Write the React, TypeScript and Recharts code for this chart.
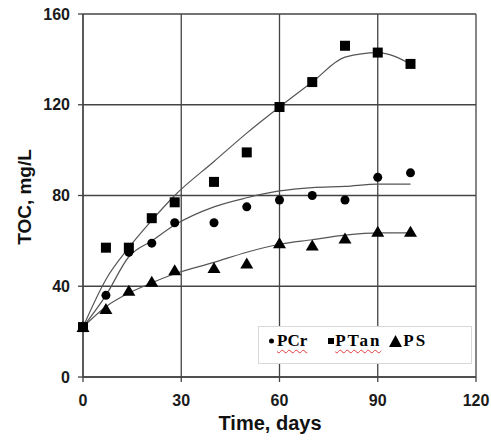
import { ComposedChart, Line, Scatter, XAxis, YAxis, CartesianGrid, Label } from 'recharts'

// sampling days
const days = [0, 7, 14, 21, 28, 40, 50, 60, 70, 80, 90, 100]

// measured TOC, mg/L
const pcr = [22, 36, 55, 59, 68, 68, 75, 78, 80, 78, 88, 90]
const ptan = [22, 57, 57, 70, 77, 86, 99, 119, 130, 146, 143, 138]
const ps = [22, 30, 38, 42, 47, 48, 50, 59, 58, 61, 64, 64]

// trend lines
const pcrFit = [22, 36, 53, 60, 67, 75, 79, 82, 83.5, 84, 85, 85]
const ptanFit = [22, 43, 57, 69, 80, 95, 107.5, 119, 130, 141, 143, 138]
const psFit = [22, 31, 37, 41.5, 45.5, 50.5, 55, 58.5, 60.5, 62.5, 63.5, 63.5]

const xTicks = [0, 30, 60, 90, 120]
const yTicks = [0, 40, 80, 120, 160]

const data = days.map((day, i) => ({
  day,
  pcr: pcr[i],
  ptan: ptan[i],
  ps: ps[i],
  pcrFit: pcrFit[i],
  ptanFit: ptanFit[i],
  psFit: psFit[i],
}))

const tickStyle = {
  fill: '#1a1a1a',
  fontFamily: 'Liberation Sans, Arial, sans-serif',
  fontWeight: 'bold' as const,
  fontSize: 16,
}

const SquareDot = ({ cx, cy }: any) => (
  <rect x={cx - 5} y={cy - 5} width={10} height={10} fill="#000" />
)

const CircleDot = ({ cx, cy }: any) => <circle cx={cx} cy={cy} r={4.5} fill="#000" />

const TriangleDot = ({ cx, cy }: any) => (
  <polygon points={`${cx},${cy - 6} ${cx + 6.5},${cy + 5} ${cx - 6.5},${cy + 5}`} fill="#000" />
)

const squiggle = {
  textDecoration: 'underline wavy #e23b3b',
  textDecorationThickness: '1px',
  textUnderlineOffset: '3px',
}

const LegendBox = () => (
  <div
    style={{
      position: 'absolute',
      left: 258,
      top: 326,
      width: 214,
      height: 38,
      boxSizing: 'border-box',
      border: '1px solid #d8d8d8',
      background: '#fff',
      display: 'flex',
      alignItems: 'center',
      paddingLeft: 10,
      paddingBottom: 8,
      fontFamily: 'Liberation Serif, Times New Roman, serif',
      fontWeight: 'bold',
      fontSize: 17,
      lineHeight: '18px',
      color: '#000',
    }}
  >
    <svg width={5} height={6} style={{ marginRight: 3 }}>
      <circle cx={2.5} cy={3} r={2.5} fill="#000" />
    </svg>
    <span style={squiggle}>PCr</span>
    <svg width={6} height={6} style={{ marginLeft: 21, marginRight: 1 }}>
      <rect width={6} height={6} fill="#000" />
    </svg>
    <span style={{ ...squiggle, letterSpacing: 2 }}>PTan</span>
    <svg width={13} height={12} style={{ marginLeft: 8, marginRight: 1 }}>
      <polygon points="6.5,0 13,12 0,12" fill="#000" />
    </svg>
    <span style={{ letterSpacing: 2 }}>PS</span>
  </div>
)

export default function App() {
  return (
    <div style={{ position: 'absolute', left: 0, top: 0, width: 491, height: 443, background: '#fff' }}>
      <ComposedChart
        width={491}
        height={443}
        data={data}
        margin={{ top: 14, right: 15, left: 0, bottom: 0 }}
      >
        <CartesianGrid stroke="#444" strokeWidth={1.3} />
        <XAxis
          dataKey="day"
          type="number"
          domain={[0, 120]}
          ticks={xTicks}
          height={66}
          tickSize={5}
          tickMargin={13}
          tick={tickStyle}
          stroke="#444"
          strokeWidth={1.3}
        >
          <Label
            content={() => (
              <text
                x={270}
                y={430}
                textAnchor="middle"
                fontFamily="Liberation Sans, Arial, sans-serif"
                fontWeight="bold"
                fontSize={20}
                fill="#111"
              >
                Time, days
              </text>
            )}
          />
        </XAxis>
        <YAxis
          type="number"
          domain={[0, 160]}
          ticks={yTicks}
          width={83}
          tickSize={5}
          tickMargin={8}
          tick={tickStyle}
          stroke="#444"
          strokeWidth={1.3}
        >
          <Label
            content={() => (
              <text
                x={24}
                y={197}
                transform="rotate(-90, 24, 197)"
                textAnchor="middle"
                dominantBaseline="central"
                fontFamily="Liberation Sans, Arial, sans-serif"
                fontWeight="bold"
                fontSize={19}
                fill="#111"
              >
                TOC, mg/L
              </text>
            )}
          />
        </YAxis>
        <Line dataKey="pcrFit" type="monotone" stroke="#555" strokeWidth={1.2} dot={false} isAnimationActive={false} />
        <Line dataKey="ptanFit" type="monotone" stroke="#555" strokeWidth={1.2} dot={false} isAnimationActive={false} />
        <Line dataKey="psFit" type="monotone" stroke="#555" strokeWidth={1.2} dot={false} isAnimationActive={false} />
        <Scatter dataKey="pcr" shape={CircleDot} isAnimationActive={false} />
        <Scatter dataKey="ptan" shape={SquareDot} isAnimationActive={false} />
        <Scatter dataKey="ps" shape={TriangleDot} isAnimationActive={false} />
      </ComposedChart>
      <LegendBox />
    </div>
  )
}
